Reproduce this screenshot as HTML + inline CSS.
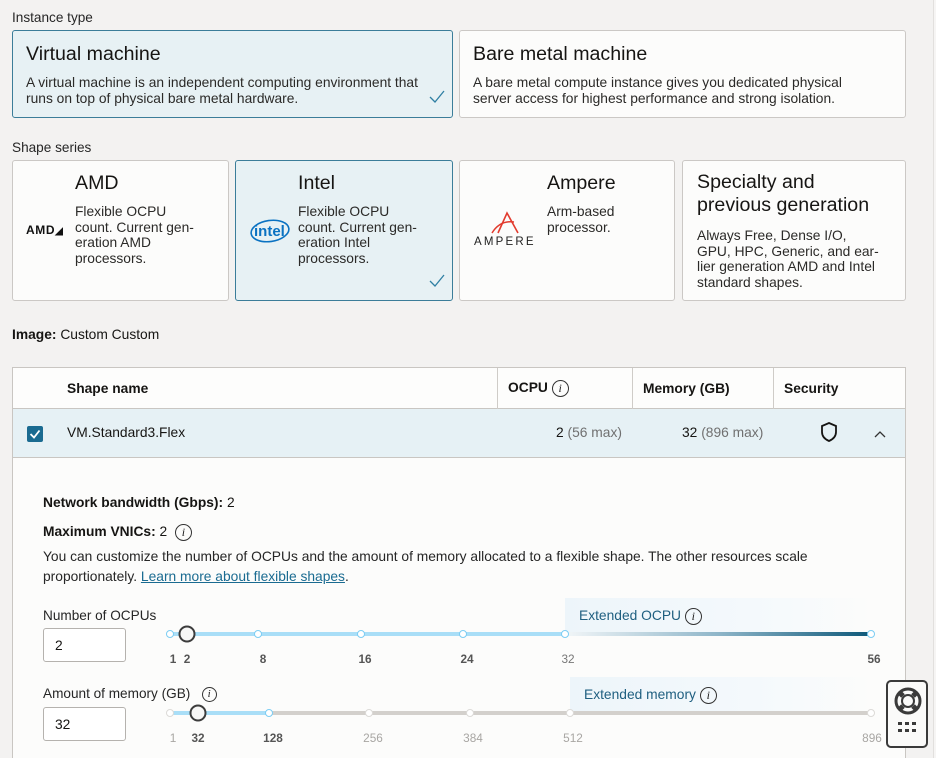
<!DOCTYPE html>
<html><head><meta charset="utf-8">
<style>
*{box-sizing:border-box;margin:0;padding:0}
html,body{width:936px;height:758px;overflow:hidden}
body{background:#f3f2f1;font-family:"Liberation Sans",Arial,sans-serif;color:#161513;position:relative}
.abs{position:absolute;white-space:nowrap}
.lbl{font-size:13.6px;color:#262626}
.card{position:absolute;background:#fcfcfb;border:1px solid #cbc8c5;border-radius:3px}
.card.sel{background:#e7f1f4;border:1px solid #3b7d99}
.t1{font-size:19.6px;color:#161513;position:absolute}
.d1{font-size:13.8px;line-height:16px;color:#2b2a28;position:absolute;white-space:nowrap}
.d2{font-size:13.8px;line-height:15.5px;color:#2b2a28;position:absolute;white-space:nowrap}
.hdr{font-size:13.8px;font-weight:bold;position:absolute;top:13px}
.info{display:inline-block;width:17px;height:17px;border:1px solid #333;border-radius:50%;font-family:"Liberation Serif",serif;font-style:italic;font-size:12px;line-height:15px;text-align:center;color:#222;vertical-align:middle;font-weight:normal}
.tick{position:absolute;font-size:11.8px;font-weight:bold;color:#555;transform:translateX(-50%)}
.tick.g{color:#a8a6a3;font-weight:normal}
.pt{position:absolute;width:8px;height:8px;border-radius:50%;background:#fff;border:1.5px solid #7ccdf3;transform:translate(-50%,-50%)}
.pt.gr{border-color:#dcdad7}
.thumb{position:absolute;width:17px;height:17px;border-radius:50%;background:#f7f7f6;border:2px solid #3c3c3c;transform:translate(-50%,-50%)}
.inp{position:absolute;width:83px;height:34px;border:1px solid #b5b2ae;border-radius:3px;background:#fff;font-size:13.8px;padding:9px 0 0 11px}
</style></head><body>

<div class="abs lbl" style="left:12px;top:10px">Instance type</div>

<div class="card sel" style="left:12px;top:30px;width:441px;height:88px">
  <div class="t1" style="left:13px;top:12px">Virtual machine</div>
  <div class="d1" style="left:13px;top:44px">A virtual machine is an independent computing environment that<br>runs on top of physical bare metal hardware.</div>
  <svg style="position:absolute;left:416px;top:59px" width="16" height="14"><polyline points="1,7 6,12 15,1" fill="none" stroke="#2f7fa3" stroke-width="1.3"/></svg>
</div>
<div class="card" style="left:459px;top:30px;width:447px;height:88px">
  <div class="t1" style="left:13px;top:12px">Bare metal machine</div>
  <div class="d1" style="left:13px;top:44px">A bare metal compute instance gives you dedicated physical<br>server access for highest performance and strong isolation.</div>
</div>

<div class="abs lbl" style="left:12px;top:140px">Shape series</div>

<div class="card" style="left:12px;top:160px;width:217px;height:141px">
  <div class="t1" style="left:62px;top:11px">AMD</div>
  <div class="d2" style="left:62px;top:43px">Flexible OCPU<br>count. Current gen-<br>eration AMD<br>processors.</div>
  <div style="position:absolute;left:13px;top:62px;font-size:12px;font-weight:bold;letter-spacing:0.6px;color:#111">AMD<span style="font-size:10px">&#x25E2;</span></div>
</div>
<div class="card sel" style="left:235px;top:160px;width:218px;height:141px">
  <div class="t1" style="left:62px;top:11px">Intel</div>
  <div class="d2" style="left:62px;top:43px">Flexible OCPU<br>count. Current gen-<br>eration Intel<br>processors.</div>
  <svg style="position:absolute;left:13px;top:56px" width="42" height="28"><ellipse cx="21" cy="14" rx="19" ry="10.5" fill="none" stroke="#0a72c2" stroke-width="1.6" transform="rotate(-8 21 14)"/><text x="5" y="19" font-family="Liberation Sans" font-size="15" font-weight="bold" fill="#0a72c2">intel</text></svg>
  <svg style="position:absolute;left:193px;top:113px" width="16" height="14"><polyline points="1,7 6,12 15,1" fill="none" stroke="#2f7fa3" stroke-width="1.3"/></svg>
</div>
<div class="card" style="left:459px;top:160px;width:216px;height:141px">
  <div class="t1" style="left:87px;top:11px">Ampere</div>
  <div class="d2" style="left:87px;top:43px">Arm-based<br>processor.</div>
  <svg style="position:absolute;left:28px;top:50px" width="36" height="24"><path d="M4 22 Q12 9 26 11" fill="none" stroke="#e23b2e" stroke-width="1.5"/><path d="M10 22 L19 2 L30 22" fill="none" stroke="#e23b2e" stroke-width="1.6"/></svg>
  <div style="position:absolute;left:14px;top:75px;font-size:11.5px;letter-spacing:2.2px;color:#222">AMPERE</div>
</div>
<div class="card" style="left:682px;top:160px;width:224px;height:141px">
  <div class="t1" style="left:14px;top:10px;line-height:23px">Specialty and<br>previous generation</div>
  <div class="d2" style="left:14px;top:67px">Always Free, Dense I/O,<br>GPU, HPC, Generic, and ear-<br>lier generation AMD and Intel<br>standard shapes.</div>
</div>

<div class="abs" style="left:12px;top:327px;font-size:13.8px"><b>Image:</b> Custom Custom</div>

<!-- table -->
<div style="position:absolute;left:12px;top:367px;width:894px;height:400px;background:#fcfcfb;border:1px solid #c9c6c2">
  <div style="position:absolute;left:0;top:0;width:892px;height:41px;border-bottom:1px solid #c9c6c2;background:#fdfdfc">
    <div class="hdr" style="left:54px">Shape name</div>
    <div style="position:absolute;left:484px;top:0;width:1px;height:41px;background:#cfccc8"></div>
    <div class="hdr" style="left:495px;top:12px">OCPU <span class="info">i</span></div>
    <div style="position:absolute;left:619px;top:0;width:1px;height:41px;background:#cfccc8"></div>
    <div class="hdr" style="left:630px">Memory (GB)</div>
    <div style="position:absolute;left:760px;top:0;width:1px;height:41px;background:#cfccc8"></div>
    <div class="hdr" style="left:771px">Security</div>
  </div>
  <div style="position:absolute;left:0;top:41px;width:892px;height:49px;background:#e6f1f5;border-bottom:1px solid #c9c6c2">
    <div style="position:absolute;left:14px;top:17px;width:16px;height:16px;background:#1a6b91;border-radius:2px"><svg width="16" height="16"><polyline points="3.5,8 7,11.5 12.5,4.5" fill="none" stroke="#fff" stroke-width="1.8"/></svg></div>
    <div class="abs" style="left:54px;top:16px;font-size:13.8px">VM.Standard3.Flex</div>
    <div class="abs" style="left:543px;top:16px;font-size:13.8px">2 <span style="color:#707070">(56 max)</span></div>
    <div class="abs" style="left:669px;top:16px;font-size:13.8px">32 <span style="color:#707070">(896 max)</span></div>
    <svg style="position:absolute;left:807px;top:12px" width="20" height="22"><path d="M9 2 L16 5 L16 11 Q16 17 9 20 Q2 17 2 11 L2 5 Z" fill="none" stroke="#161513" stroke-width="1.8"/></svg>
    <svg style="position:absolute;left:860px;top:20px" width="16" height="10"><polyline points="2,8 7,3 12,8" fill="none" stroke="#333" stroke-width="1.3"/></svg>
  </div>

  <div class="abs" style="left:30px;top:127px;font-size:13.8px"><b>Network bandwidth (Gbps):</b> 2</div>
  <div class="abs" style="left:30px;top:156px;font-size:13.8px"><b>Maximum VNICs:</b> 2 &nbsp;<span class="info">i</span></div>
  <div class="abs" style="left:30px;top:179px;font-size:13.8px;line-height:20px;color:#262626">You can customize the number of OCPUs and the amount of memory allocated to a flexible shape. The other resources scale<br>proportionately. <span style="color:#1a6b91;text-decoration:underline">Learn more about flexible shapes</span>.</div>
</div>

<!-- OCPU slider -->
<div class="abs lbl" style="left:43px;top:608px">Number of OCPUs</div>
<div class="inp" style="left:43px;top:628px">2</div>
<div style="position:absolute;left:565px;top:598px;width:310px;height:36px;background:linear-gradient(to right,#edf5fa 0%,#f4f9fc 60%,rgba(252,252,251,0) 100%)"></div>
<div class="abs" style="left:579px;top:608px;font-size:13.8px;color:#1f5f80">Extended OCPU <span class="info" style="color:#222">i</span></div>
<div style="position:absolute;left:170px;top:632px;width:395px;height:4px;background:#a9def7"></div>
<div style="position:absolute;left:565px;top:632px;width:306px;height:4px;background:linear-gradient(to right,#f2f6f8,#8fb6c9 50%,#0d5879)"></div>
<div class="pt" style="left:170px;top:634px"></div>
<div class="pt" style="left:258px;top:634px"></div>
<div class="pt" style="left:361px;top:634px"></div>
<div class="pt" style="left:463px;top:634px"></div>
<div class="pt" style="left:565px;top:634px"></div>
<div class="pt" style="left:871px;top:634px"></div>
<div class="thumb" style="left:187px;top:634px"></div>
<div class="tick" style="left:173px;top:652px">1</div>
<div class="tick" style="left:187px;top:652px">2</div>
<div class="tick" style="left:263px;top:652px">8</div>
<div class="tick" style="left:365px;top:652px">16</div>
<div class="tick" style="left:467px;top:652px">24</div>
<div class="tick g" style="left:568px;top:652px;color:#777">32</div>
<div class="tick" style="left:874px;top:652px">56</div>

<!-- Memory slider -->
<div class="abs lbl" style="left:43px;top:686px">Amount of memory (GB) &nbsp;&nbsp;<span class="info" style="width:15px;height:15px;line-height:13px;font-size:11px">i</span></div>
<div class="inp" style="left:43px;top:707px">32</div>
<div style="position:absolute;left:570px;top:677px;width:305px;height:36px;background:linear-gradient(to right,#edf5fa 0%,#f4f9fc 60%,rgba(252,252,251,0) 100%)"></div>
<div class="abs" style="left:584px;top:687px;font-size:13.8px;color:#1f5f80">Extended memory <span class="info" style="color:#222">i</span></div>
<div style="position:absolute;left:170px;top:711px;width:99px;height:4px;background:#a9def7"></div>
<div style="position:absolute;left:269px;top:711px;width:602px;height:4px;background:#d3d0cc"></div>
<div class="pt gr" style="left:170px;top:713px"></div>
<div class="pt" style="left:269px;top:713px"></div>
<div class="pt gr" style="left:369px;top:713px"></div>
<div class="pt gr" style="left:470px;top:713px"></div>
<div class="pt gr" style="left:570px;top:713px"></div>
<div class="pt gr" style="left:871px;top:713px"></div>
<div class="thumb" style="left:198px;top:713px"></div>
<div class="tick g" style="left:173px;top:731px">1</div>
<div class="tick" style="left:198px;top:731px">32</div>
<div class="tick" style="left:273px;top:731px">128</div>
<div class="tick g" style="left:373px;top:731px">256</div>
<div class="tick g" style="left:473px;top:731px">384</div>
<div class="tick g" style="left:573px;top:731px">512</div>
<div class="tick g" style="left:872px;top:731px">896</div>

<!-- right strip -->
<div style="position:absolute;left:933px;top:0;width:3px;height:758px;background:#f6f5f4;border-left:1px solid #e2e0de"></div>

<!-- help widget -->
<div style="position:absolute;left:886px;top:680px;width:42px;height:68px;background:#fafaf9;border:2px solid #3a3a3a;border-radius:5px">
  <svg style="position:absolute;left:5px;top:4px" width="30" height="30"><circle cx="15" cy="15" r="12" fill="none" stroke="#3a3a3a" stroke-width="3"/><circle cx="15" cy="15" r="6" fill="none" stroke="#3a3a3a" stroke-width="2"/><g stroke="#3a3a3a" stroke-width="5"><line x1="7" y1="7" x2="10" y2="10"/><line x1="23" y1="7" x2="20" y2="10"/><line x1="7" y1="23" x2="10" y2="20"/><line x1="23" y1="23" x2="20" y2="20"/></g></svg>
  <svg style="position:absolute;left:10px;top:40px" width="20" height="14"><g fill="#3a3a3a"><rect x="0" y="0" width="4" height="3"/><rect x="7" y="0" width="4" height="3"/><rect x="14" y="0" width="4" height="3"/><rect x="0" y="7" width="4" height="3"/><rect x="7" y="7" width="4" height="3"/><rect x="14" y="7" width="4" height="3"/></g></svg>
</div>

</body></html>
